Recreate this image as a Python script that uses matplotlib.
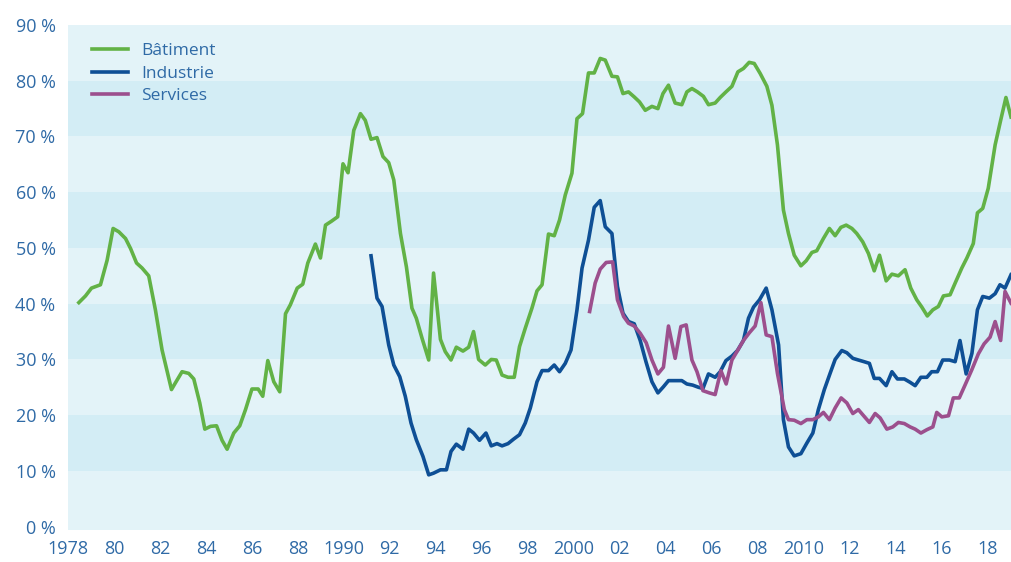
import matplotlib as mpl
import matplotlib.pyplot as plt

mpl.rcParams["font.family"] = ["Open Sans", "DejaVu Sans"]

# values (share in %, by year)
batiment_years = [
    1978.47, 1978.76, 1979.02, 1979.41, 1979.70, 1979.96, 1980.21, 1980.50, 1980.72, 1980.98,
    1981.22, 1981.51, 1981.80, 1982.09, 1982.50, 1982.67, 1982.96, 1983.25, 1983.47, 1983.73,
    1983.95, 1984.20, 1984.46, 1984.70, 1984.92, 1985.21, 1985.47, 1985.72, 1986.00, 1986.27,
    1986.47, 1986.69, 1986.95, 1987.21, 1987.46, 1987.67, 1987.97, 1988.21, 1988.43, 1988.76,
    1988.98, 1989.20, 1989.46, 1989.73, 1989.96, 1990.18, 1990.43, 1990.72, 1990.93, 1991.18,
    1991.44, 1991.70, 1991.95, 1992.17, 1992.46, 1992.72, 1992.96, 1993.15, 1993.40, 1993.69,
    1993.90, 1994.20, 1994.41, 1994.66, 1994.89, 1995.18, 1995.43, 1995.64, 1995.86, 1996.15,
    1996.41, 1996.63, 1996.88, 1997.14, 1997.41, 1997.64, 1997.89, 1998.18, 1998.40, 1998.62,
    1998.90, 1999.15, 1999.38, 1999.63, 1999.92, 2000.14, 2000.38, 2000.64, 2000.89, 2001.15,
    2001.37, 2001.66, 2001.90, 2002.14, 2002.38, 2002.63, 2002.86, 2003.11, 2003.40, 2003.66,
    2003.88, 2004.12, 2004.41, 2004.70, 2004.92, 2005.14, 2005.38, 2005.64, 2005.86, 2006.15,
    2006.37, 2006.62, 2006.88, 2007.14, 2007.38, 2007.63, 2007.85, 2008.11, 2008.40, 2008.62,
    2008.86, 2009.12, 2009.34, 2009.59, 2009.88, 2010.11, 2010.36, 2010.57, 2010.86, 2011.12,
    2011.37, 2011.62, 2011.85, 2012.10, 2012.31, 2012.57, 2012.82, 2013.07, 2013.30, 2013.59,
    2013.84, 2014.12, 2014.41, 2014.66, 2014.92, 2015.14, 2015.38, 2015.62, 2015.86, 2016.08,
    2016.37, 2016.59, 2016.88, 2017.10, 2017.38, 2017.56, 2017.79, 2018.03, 2018.33, 2018.57,
    2018.80, 2019.02,
]
batiment = [
    40.2, 41.4, 42.8, 43.4, 47.8, 53.5, 52.9, 51.7, 49.9, 47.3,
    46.4, 45.0, 38.9, 31.7, 24.6, 25.8, 27.8, 27.5, 26.5, 22.2,
    17.5, 18.0, 18.1, 15.5, 13.9, 16.8, 18.1, 21.0, 24.7, 24.7,
    23.4, 29.8, 26.0, 24.2, 38.2, 39.8, 42.8, 43.5, 47.3, 50.7,
    48.2, 54.1, 54.8, 55.6, 65.1, 63.5, 71.1, 74.1, 72.9, 69.5,
    69.8, 66.4, 65.3, 62.2, 52.6, 46.6, 39.2, 37.4, 33.8, 29.9,
    45.5, 33.6, 31.4, 29.9, 32.2, 31.5, 32.2, 35.0, 30.0, 29.0,
    30.0, 29.9, 27.2, 26.8, 26.8, 32.3, 35.6, 39.2, 42.3, 43.4,
    52.5, 52.2, 55.0, 59.5, 63.4, 73.2, 74.1, 81.4, 81.4, 84.0,
    83.7, 80.8, 80.7, 77.7, 78.0, 77.1, 76.2, 74.7, 75.4, 75.0,
    77.7, 79.2, 76.0, 75.7, 78.0, 78.6, 78.0, 77.2, 75.7, 76.0,
    77.0, 78.0, 79.0, 81.6, 82.2, 83.3, 83.1, 81.3, 79.0, 75.6,
    68.5, 56.8, 52.6, 48.7, 46.8, 47.7, 49.2, 49.5, 51.7, 53.5,
    52.2, 53.7, 54.1, 53.5, 52.6, 51.1, 49.0, 45.9, 48.7, 44.1,
    45.3, 45.0, 46.1, 42.8, 40.7, 39.4, 37.8, 38.9, 39.5, 41.4,
    41.6, 43.7, 46.4, 48.2, 50.8, 56.3, 57.1, 60.7, 68.5, 72.9,
    77.0, 73.5,
]

industrie_years = [
    1991.18, 1991.44, 1991.66, 1991.95, 1992.17, 1992.43, 1992.67, 1992.92, 1993.15, 1993.44,
    1993.69, 1993.90, 1994.20, 1994.46, 1994.66, 1994.89, 1995.18, 1995.43, 1995.64, 1995.90,
    1996.18, 1996.41, 1996.66, 1996.88, 1997.14, 1997.38, 1997.64, 1997.89, 1998.11, 1998.40,
    1998.62, 1998.90, 1999.15, 1999.38, 1999.63, 1999.88, 2000.14, 2000.36, 2000.64, 2000.89,
    2001.15, 2001.37, 2001.66, 2001.90, 2002.14, 2002.38, 2002.63, 2002.89, 2003.14, 2003.40,
    2003.66, 2003.90, 2004.12, 2004.41, 2004.70, 2004.92, 2005.17, 2005.43, 2005.62, 2005.86,
    2006.15, 2006.37, 2006.62, 2006.88, 2007.12, 2007.38, 2007.60, 2007.82, 2008.08, 2008.37,
    2008.62, 2008.91, 2009.12, 2009.34, 2009.59, 2009.88, 2010.14, 2010.40, 2010.64, 2010.90,
    2011.15, 2011.37, 2011.66, 2011.88, 2012.14, 2012.38, 2012.63, 2012.86, 2013.07, 2013.30,
    2013.59, 2013.84, 2014.08, 2014.38, 2014.63, 2014.85, 2015.10, 2015.36, 2015.57, 2015.82,
    2016.05, 2016.34, 2016.59, 2016.80, 2017.07, 2017.32, 2017.56, 2017.79, 2018.08, 2018.33,
    2018.54, 2018.76, 2019.02,
]
industrie = [
    48.6, 41.0, 39.5, 32.6, 29.0, 26.9, 23.4, 18.6, 15.6, 12.6,
    9.3, 9.6, 10.2, 10.2, 13.5, 14.8, 13.9, 17.5, 16.8, 15.5,
    16.8, 14.5, 14.9, 14.5, 14.9, 15.7, 16.5, 18.6, 21.3, 26.0,
    28.0, 28.0, 29.0, 27.8, 29.3, 31.7, 38.9, 46.4, 51.4, 57.3,
    58.5, 53.8, 52.6, 43.1, 38.3, 36.8, 36.4, 33.4, 29.6, 26.0,
    24.0, 25.1, 26.2, 26.2, 26.2, 25.6, 25.4, 25.0, 24.8, 27.4,
    26.8, 27.8, 29.8, 30.6, 31.6, 33.4, 37.4, 39.4, 40.7, 42.8,
    38.9, 32.6, 19.2, 14.3, 12.7, 13.1, 15.0, 16.8, 21.0, 24.6,
    27.5, 30.0, 31.6, 31.2, 30.2, 29.9, 29.6, 29.3, 26.6, 26.6,
    25.3, 27.8, 26.5, 26.5, 25.9, 25.3, 26.8, 26.8, 27.8, 27.8,
    29.9, 29.9, 29.6, 33.4, 27.4, 31.1, 38.9, 41.3, 41.0, 41.8,
    43.4, 42.8, 45.2,
]

services_years = [
    2000.69, 2000.93, 2001.15, 2001.41, 2001.69, 2001.90, 2002.17, 2002.38, 2002.63, 2002.89,
    2003.15, 2003.40, 2003.66, 2003.90, 2004.12, 2004.41, 2004.66, 2004.89, 2005.14, 2005.36,
    2005.62, 2005.90, 2006.15, 2006.40, 2006.63, 2006.88, 2007.14, 2007.38, 2007.64, 2007.89,
    2008.14, 2008.37, 2008.62, 2008.86, 2009.16, 2009.34, 2009.59, 2009.88, 2010.14, 2010.40,
    2010.64, 2010.86, 2011.12, 2011.37, 2011.63, 2011.88, 2012.14, 2012.38, 2012.63, 2012.86,
    2013.11, 2013.33, 2013.62, 2013.88, 2014.12, 2014.38, 2014.63, 2014.85, 2015.10, 2015.36,
    2015.62, 2015.79, 2016.01, 2016.30, 2016.51, 2016.77, 2017.02, 2017.31, 2017.60, 2017.85,
    2018.11, 2018.33, 2018.57, 2018.76, 2019.02,
]
services = [
    38.6, 43.7, 46.2, 47.4, 47.5, 40.7, 37.7, 36.5, 36.0, 34.7,
    33.0, 29.9, 27.4, 28.6, 36.0, 30.2, 35.9, 36.2, 29.9, 27.8,
    24.4, 24.0, 23.7, 28.0, 25.6, 29.9, 31.7, 33.4, 34.8, 36.0,
    40.2, 34.4, 34.1, 27.5, 21.0, 19.2, 19.1, 18.5, 19.2, 19.2,
    19.7, 20.5, 19.2, 21.3, 23.1, 22.2, 20.3, 21.0, 19.8, 18.7,
    20.3, 19.5, 17.5, 17.9, 18.7, 18.5, 17.9, 17.5, 16.8, 17.4,
    17.9, 20.5, 19.7, 19.9, 23.1, 23.1, 25.4, 28.1, 31.0, 32.8,
    34.0, 36.8, 33.4, 42.2, 40.1,
]

x_ticks = list(range(1978, 2019, 2))
x_labels = ["1978", "80", "82", "84", "86", "88", "1990", "92", "94", "96", "98",
            "2000", "02", "04", "06", "08", "2010", "12", "14", "16", "18"]
y_ticks = list(range(0, 91, 10))

text_color = "#2f6aa6"

fig = plt.figure(figsize=(10.11, 5.62), dpi=100)
ax = fig.add_axes([0.0673, 0.0569, 0.9327, 0.8986])

# horizontal background stripes
for i, lo in enumerate(range(0, 90, 10)):
    color = "#e3f3f8" if i % 2 == 0 else "#d3edf5"
    bottom = -0.6 if lo == 0 else lo
    ax.axhspan(bottom, lo + 10, color=color, lw=0, zorder=0)

ax.plot(batiment_years, batiment, color="#62b246", lw=2.6, label="Bâtiment", zorder=3)
ax.plot(industrie_years, industrie, color="#0e4f95", lw=2.6, label="Industrie", zorder=3)
ax.plot(services_years, services, color="#9c4f8d", lw=2.6, label="Services", zorder=4)

ax.set_xlim(1978, 2019.02)
ax.set_ylim(-0.6, 90)
ax.set_xticks(x_ticks, x_labels)
ax.set_yticks(y_ticks, [f"{v} %" for v in y_ticks])
ax.tick_params(axis="both", length=0, labelsize=13, labelcolor=text_color)
ax.tick_params(axis="x", pad=7)
ax.tick_params(axis="y", pad=9)
for s in ax.spines.values():
    s.set_visible(False)

ax.legend(loc="upper left", bbox_to_anchor=(0.025, 0.965), frameon=False,
          fontsize=12.5, labelcolor=text_color, handlelength=2.1,
          handletextpad=0.75, labelspacing=0.38, borderpad=0, borderaxespad=0)

plt.savefig("out.png", dpi=100)
